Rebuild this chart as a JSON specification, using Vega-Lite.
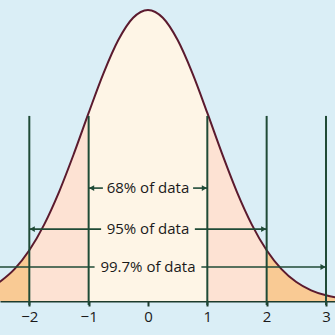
{
  "$schema": "https://vega.github.io/schema/vega-lite/v6.json",
  "width": 335,
  "height": 301,
  "autosize": {"type": "none"},
  "padding": {"left": 0, "top": 0, "right": 0, "bottom": 34},
  "background": "#daeef6",
  "config": {
    "view": {"stroke": null},
    "font": "Open Sans",
    "axisX": {"title": null, "grid": false, "domainColor": "#1d3b2c", "domainWidth": 2, "tickColor": "#1d3b2c",
      "tickWidth": 2, "tickSize": 5, "labelFontSize": 15, "labelColor": "#1a1a1a", "labelPadding": 3, "labelFont": "Open Sans"}
  },
  "datasets": {
    "curve": [
      {"x": -2.5, "y": 0.0653}, {"x": -2.25, "y": 0.1096}, {"x": -2, "y": 0.1743}, {"x": -1.75, "y": 0.2626},
      {"x": -1.5, "y": 0.3743}, {"x": -1.25, "y": 0.5054}, {"x": -1, "y": 0.6462}, {"x": -0.75, "y": 0.7822},
      {"x": -0.5, "y": 0.8966}, {"x": -0.25, "y": 0.9731}, {"x": 0, "y": 1.0}, {"x": 0.25, "y": 0.9731},
      {"x": 0.5, "y": 0.8966}, {"x": 0.75, "y": 0.7822}, {"x": 1, "y": 0.6462}, {"x": 1.25, "y": 0.5054},
      {"x": 1.5, "y": 0.3743}, {"x": 1.75, "y": 0.2626}, {"x": 2, "y": 0.1743}, {"x": 2.25, "y": 0.1096},
      {"x": 2.5, "y": 0.0653}, {"x": 2.75, "y": 0.0368}, {"x": 3, "y": 0.0196}, {"x": 3.25, "y": 0.0099}
    ],
    "vlines": [{"x": -2}, {"x": -1}, {"x": 1}, {"x": 2}, {"x": 3}],
    "segs": [
      {"x": -1, "x2": -0.76, "y": 0.388}, {"x": 0.76, "x2": 1, "y": 0.388},
      {"x": -2, "x2": -0.79, "y": 0.247}, {"x": 0.79, "x2": 2, "y": 0.247},
      {"x": -2.6, "x2": -0.9, "y": 0.117}, {"x": 0.9, "x2": 3, "y": 0.117}
    ],
    "heads": [
      {"x": -0.95, "y": 0.388, "dir": "L"}, {"x": 0.95, "y": 0.388, "dir": "R"},
      {"x": -1.95, "y": 0.247, "dir": "L"}, {"x": 1.95, "y": 0.247, "dir": "R"},
      {"x": 2.95, "y": 0.117, "dir": "R"}
    ],
    "labels": [
      {"x": 0, "y": 0.388, "label": "68% of data"},
      {"x": 0, "y": 0.247, "label": "95% of data"},
      {"x": 0, "y": 0.117, "label": "99.7% of data"}
    ]
  },
  "layer": [
    {"data": {"name": "curve"}, "transform": [{"filter": "datum.x <= -2"}],
     "mark": {"type": "area", "color": "#f9ca94", "interpolate": "monotone"},
     "encoding": {
       "x": {"field": "x", "type": "quantitative",
         "scale": {"domain": [-2.494, 3.152], "nice": false, "zero": false},
         "axis": {"values": [-2, -1, 0, 1, 2, 3]}},
       "y": {"field": "y", "type": "quantitative",
         "scale": {"domain": [0, 1.03436], "nice": false, "zero": false}, "axis": null}
     }},
    {"data": {"name": "curve"}, "transform": [{"filter": "datum.x >= -2 && datum.x <= -1"}],
     "mark": {"type": "area", "color": "#fde2d3", "interpolate": "monotone"},
     "encoding": {"x": {"field": "x", "type": "quantitative", "axis": {"values": [-2, -1, 0, 1, 2, 3]}}, "y": {"field": "y", "type": "quantitative", "axis": null}}},
    {"data": {"name": "curve"}, "transform": [{"filter": "datum.x >= -1 && datum.x <= 1"}],
     "mark": {"type": "area", "color": "#fef5e6", "interpolate": "monotone"},
     "encoding": {"x": {"field": "x", "type": "quantitative", "axis": {"values": [-2, -1, 0, 1, 2, 3]}}, "y": {"field": "y", "type": "quantitative", "axis": null}}},
    {"data": {"name": "curve"}, "transform": [{"filter": "datum.x >= 1 && datum.x <= 2"}],
     "mark": {"type": "area", "color": "#fde2d3", "interpolate": "monotone"},
     "encoding": {"x": {"field": "x", "type": "quantitative", "axis": {"values": [-2, -1, 0, 1, 2, 3]}}, "y": {"field": "y", "type": "quantitative", "axis": null}}},
    {"data": {"name": "curve"}, "transform": [{"filter": "datum.x >= 2"}],
     "mark": {"type": "area", "color": "#f9ca94", "interpolate": "monotone"},
     "encoding": {"x": {"field": "x", "type": "quantitative", "axis": {"values": [-2, -1, 0, 1, 2, 3]}}, "y": {"field": "y", "type": "quantitative", "axis": null}}},
    {"data": {"name": "curve"},
     "mark": {"type": "line", "color": "#5b1a2e", "strokeWidth": 2, "interpolate": "monotone"},
     "encoding": {"x": {"field": "x", "type": "quantitative", "axis": {"values": [-2, -1, 0, 1, 2, 3]}}, "y": {"field": "y", "type": "quantitative", "axis": null}}},
    {"data": {"name": "vlines"},
     "mark": {"type": "rule", "color": "#1f4a36", "strokeWidth": 2},
     "encoding": {
       "x": {"field": "x", "type": "quantitative", "axis": {"values": [-2, -1, 0, 1, 2, 3]}},
       "y": {"datum": 0.636, "type": "quantitative", "axis": null},
       "y2": {"datum": -0.0137}
     }},
    {"data": {"name": "segs"},
     "mark": {"type": "rule", "color": "#1f4a36", "strokeWidth": 1.6},
     "encoding": {"x": {"field": "x", "type": "quantitative", "axis": {"values": [-2, -1, 0, 1, 2, 3]}}, "x2": {"field": "x2"},
       "y": {"field": "y", "type": "quantitative", "axis": null}}},
    {"data": {"name": "heads"},
     "mark": {"type": "point", "filled": true, "color": "#1f4a36", "opacity": 1, "size": 35},
     "encoding": {"x": {"field": "x", "type": "quantitative", "axis": {"values": [-2, -1, 0, 1, 2, 3]}}, "y": {"field": "y", "type": "quantitative", "axis": null},
       "shape": {"field": "dir", "type": "nominal",
        "scale": {"domain": ["L", "R"], "range": ["triangle-left", "triangle-right"]}, "legend": null}}},
    {"data": {"name": "labels"},
     "mark": {"type": "text", "fontSize": 15, "color": "#1a1a1a", "baseline": "middle", "align": "center", "font": "Open Sans"},
     "encoding": {"x": {"field": "x", "type": "quantitative", "axis": {"values": [-2, -1, 0, 1, 2, 3]}}, "y": {"field": "y", "type": "quantitative", "axis": null},
       "text": {"field": "label"}}}
  ]
}
